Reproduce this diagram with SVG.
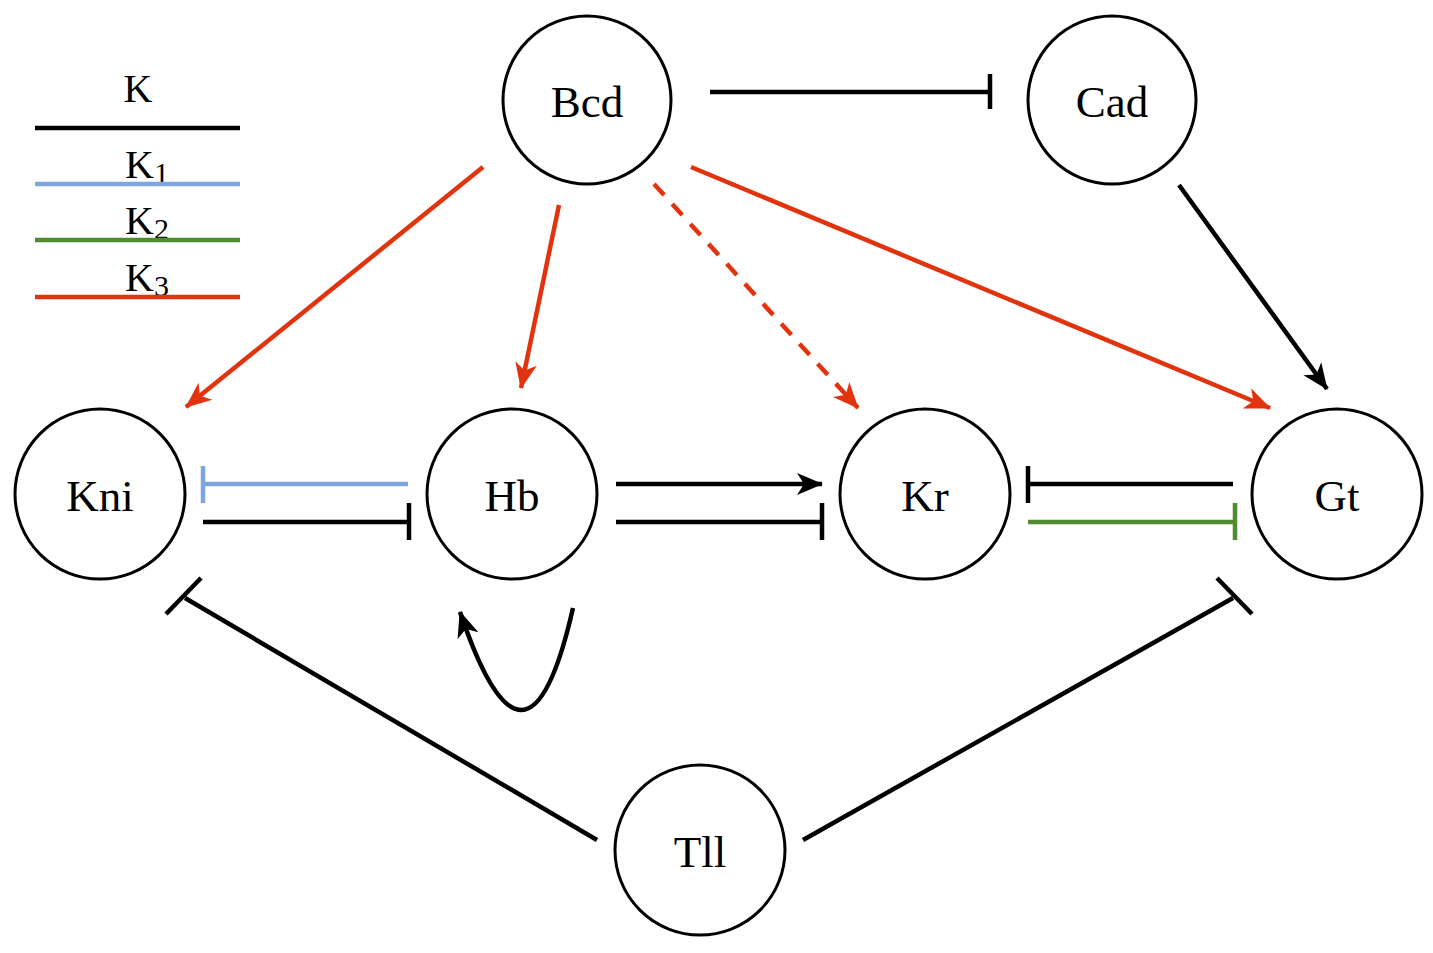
<svg xmlns="http://www.w3.org/2000/svg" width="1433" height="953" viewBox="0 0 1433 953">
<style>
.node{fill:#fff;stroke:#000;stroke-width:3}
.lbl{font-family:"Liberation Serif","DejaVu Serif",serif;font-size:45px;text-anchor:middle;fill:#000}
.leg{font-family:"Liberation Serif","DejaVu Serif",serif;font-size:40px;fill:#000}
.sub{font-size:30px}
.e{fill:none;stroke-width:4.5;stroke-linecap:butt}
.k{stroke:#000}
.r{stroke:#e2330f}
.b{stroke:#7ea6dc}
.g{stroke:#4f8c2d}
</style>
<defs>
<marker id="ak" markerUnits="userSpaceOnUse" markerWidth="28" markerHeight="24" refX="25" refY="12" orient="auto">
<path d="M0,1 L26,12 L0,23 L7,12 z" fill="#000"/>
</marker>
<marker id="ar" markerUnits="userSpaceOnUse" markerWidth="28" markerHeight="24" refX="25" refY="12" orient="auto">
<path d="M0,1 L26,12 L0,23 L7,12 z" fill="#e2330f"/>
</marker>
</defs>
<rect width="1433" height="953" fill="#fff"/>
<g id="legend">
<text class="leg" x="138" y="102" text-anchor="middle">K</text>
<line class="e k" x1="35" y1="128" x2="240" y2="128"/>
<text class="leg" x="125" y="178">K<tspan class="sub" dy="5">1</tspan></text>
<line class="e b" x1="35" y1="184" x2="240" y2="184"/>
<text class="leg" x="125" y="234">K<tspan class="sub" dy="5">2</tspan></text>
<line class="e g" x1="35" y1="240" x2="240" y2="240"/>
<text class="leg" x="125" y="291">K<tspan class="sub" dy="5">3</tspan></text>
<line class="e r" x1="35" y1="297" x2="240" y2="297"/>
</g>
<g id="connectors">
<line class="e k" x1="710" y1="92" x2="990" y2="92"/>
<line class="e k" x1="990" y1="74" x2="990" y2="109"/>
<line class="e k" x1="1179" y1="185" x2="1327" y2="389" marker-end="url(#ak)"/>
<line class="e r" x1="483" y1="167" x2="186" y2="407" marker-end="url(#ar)"/>
<line class="e r" x1="559" y1="205" x2="521" y2="388" marker-end="url(#ar)"/>
<line class="e r" x1="654" y1="184" x2="858" y2="408" stroke-dasharray="15 12" marker-end="url(#ar)"/>
<line class="e r" x1="691" y1="167" x2="1270" y2="408" marker-end="url(#ar)"/>
<line class="e b" x1="408" y1="484" x2="203" y2="484"/>
<line class="e b" x1="203" y1="466" x2="203" y2="503"/>
<line class="e k" x1="203" y1="522" x2="409" y2="522"/>
<line class="e k" x1="409" y1="503" x2="409" y2="540"/>
<line class="e k" x1="616" y1="484" x2="822" y2="484" marker-end="url(#ak)"/>
<line class="e k" x1="616" y1="522" x2="822" y2="522"/>
<line class="e k" x1="822" y1="503" x2="822" y2="540"/>
<line class="e k" x1="1233" y1="484" x2="1028" y2="484"/>
<line class="e k" x1="1028" y1="466" x2="1028" y2="503"/>
<line class="e g" x1="1028" y1="522" x2="1235" y2="522"/>
<line class="e g" x1="1235" y1="503" x2="1235" y2="540"/>
<path class="e k" d="M573,608 Q527,810 460,612" marker-end="url(#ak)"/>
<line class="e k" x1="597" y1="840" x2="185" y2="598"/>
<line class="e k" x1="201" y1="578" x2="166" y2="614"/>
<line class="e k" x1="803" y1="840" x2="1233" y2="598"/>
<line class="e k" x1="1217" y1="578" x2="1252" y2="614"/>
</g>
<g id="Bcd"><circle class="node" cx="587" cy="100" r="84"/><text class="lbl" x="587" y="117">Bcd</text></g>
<g id="Cad"><circle class="node" cx="1112" cy="100" r="84"/><text class="lbl" x="1112" y="117">Cad</text></g>
<g id="Kni"><circle class="node" cx="100" cy="494" r="85"/><text class="lbl" x="100" y="511">Kni</text></g>
<g id="Hb"><circle class="node" cx="512" cy="494" r="85"/><text class="lbl" x="512" y="511">Hb</text></g>
<g id="Kr"><circle class="node" cx="925" cy="494" r="85"/><text class="lbl" x="925" y="511">Kr</text></g>
<g id="Gt"><circle class="node" cx="1337" cy="494" r="85"/><text class="lbl" x="1337" y="511">Gt</text></g>
<g id="Tll"><circle class="node" cx="700" cy="850" r="85"/><text class="lbl" x="700" y="867">Tll</text></g>
</svg>
